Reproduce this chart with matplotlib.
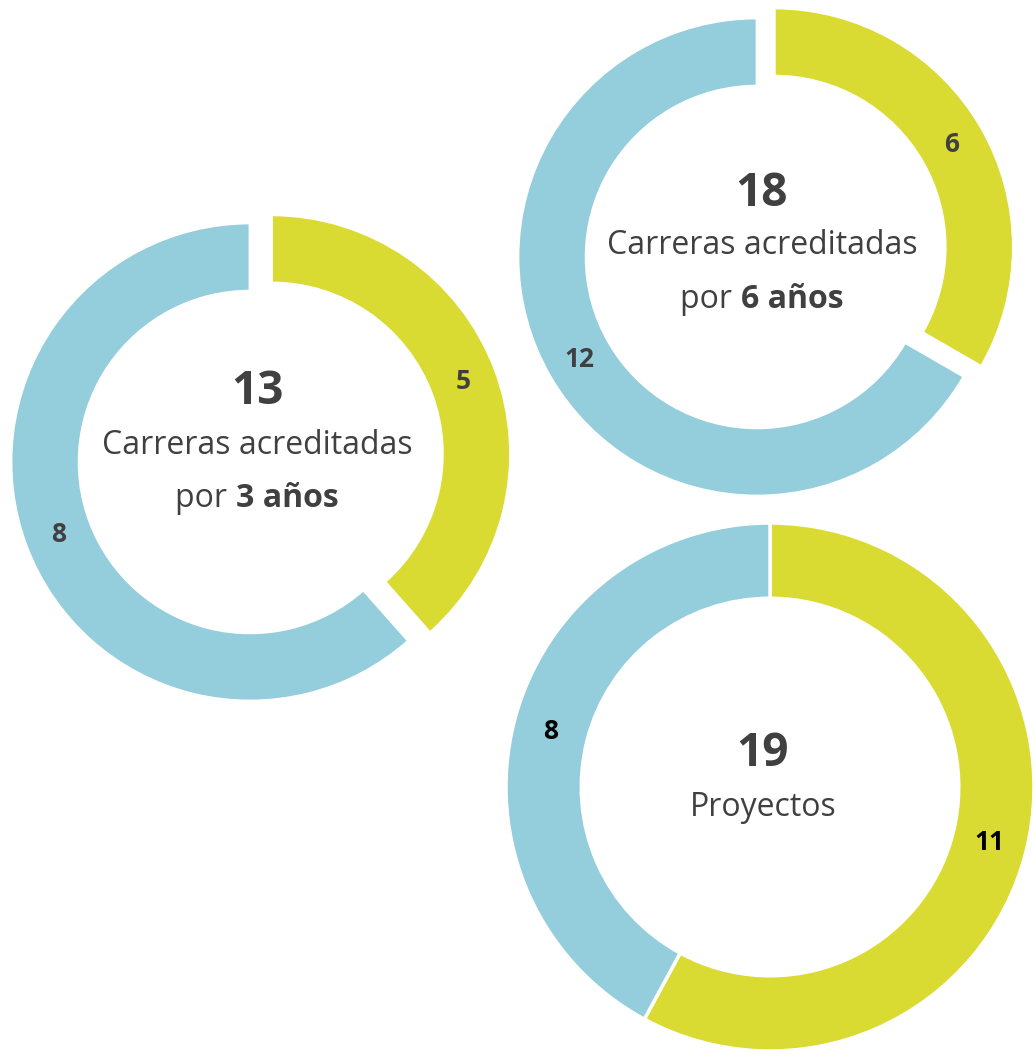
import numpy as np
import matplotlib.pyplot as plt

# --- data -------------------------------------------------------------
totals = [13, 18, 19]
green_vals = [5, 6, 11]
blue_vals = [8, 12, 8]
captions = ["Carreras acreditadas", "Carreras acreditadas", "Proyectos"]
sub_regular = ["por ", "por ", None]
sub_bold = ["3 años", "6 años", None]

GREEN = "#dadb32"
BLUE = "#94cddc"
DARK = "#404040"

# layout (pixel space, y up)
W, H = 1035, 1061
centers = [(250, H - 462), (757, H - 257), (770, H - 787)]
radii = [239, 239, 264]
explodes = [23, 20, 0]          # pixels
edge_w = [2, 2, 2.5]
label_colors = [DARK, DARK, "black"]
HOLE = 0.715
# text offsets from ring centre: number, caption, baseline of 2nd line
text_cx = [257, 762, 763]
num_dy = [71, 64, 33]
cap_dy = [17, 11, -20]
sub_dy = [-45, -51, 0]

plt.rcParams['font.family'] = ['Open Sans', 'DejaVu Sans']

fig = plt.figure(figsize=(W / 100, H / 100), dpi=100)
ax = fig.add_axes([0, 0, 1, 1])

for i in range(3):
    vals = [green_vals[i], blue_vals[i]]
    r = radii[i]
    tot = sum(vals)
    ax.pie(vals, colors=[GREEN, BLUE], startangle=90, counterclock=False,
           center=centers[i], radius=r, explode=[explodes[i], 0],
           autopct=lambda p, t=tot: f"{round(p * t / 100)}",
           pctdistance=(1 + HOLE) / 2,
           wedgeprops=dict(width=r * (1 - HOLE), edgecolor="white",
                           linewidth=edge_w[i]),
           textprops=dict(color=label_colors[i], fontsize=19,
                          fontweight="bold"))

ax.set_xlim(0, W)
ax.set_ylim(0, H)
ax.set_aspect("equal")
ax.axis("off")

renderer = fig.canvas.get_renderer()
for i in range(3):
    cx = text_cx[i]
    cy = centers[i][1]
    ax.text(cx, cy + num_dy[i], str(totals[i]), ha="center", va="center",
            fontsize=33, fontweight="bold", color=DARK)
    ax.text(cx, cy + cap_dy[i], captions[i], ha="center", va="center",
            fontsize=23, color=DARK)
    if sub_regular[i]:
        t1 = ax.text(cx, cy + sub_dy[i], sub_regular[i], ha="left",
                     va="baseline", fontsize=23, color=DARK)
        t2 = ax.text(cx, cy + sub_dy[i], sub_bold[i], ha="left",
                     va="baseline", fontsize=23, fontweight="bold",
                     color=DARK)
        w1 = t1.get_window_extent(renderer).width
        w2 = t2.get_window_extent(renderer).width
        x0 = cx - (w1 + w2) / 2
        t1.set_x(x0)
        t2.set_x(x0 + w1)

fig.savefig("out.png", dpi=100)
